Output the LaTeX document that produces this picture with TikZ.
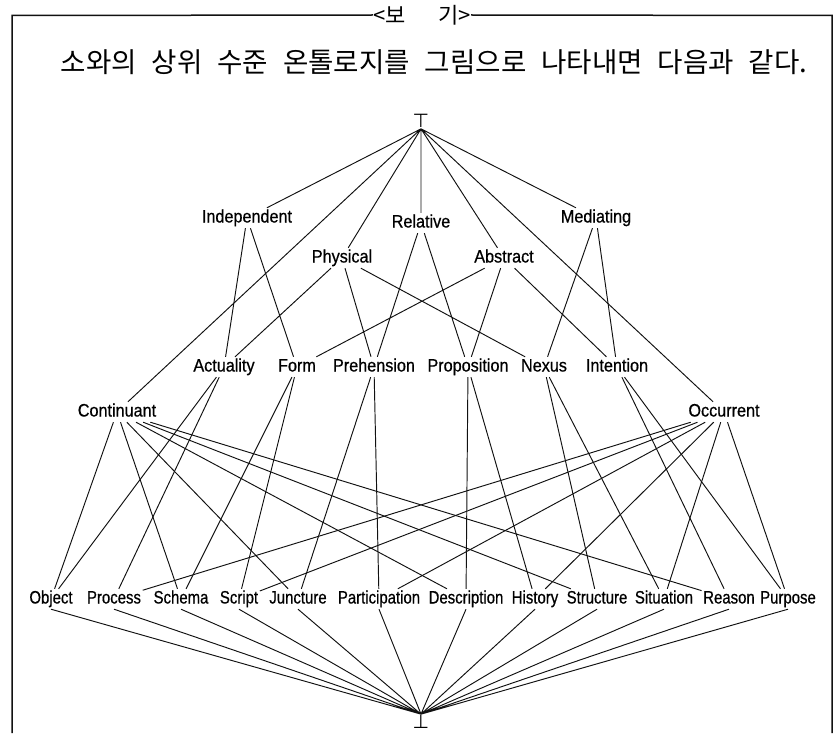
\documentclass[tikz,border=0pt]{standalone}
\usepackage{fontspec}
\setmainfont{Liberation Sans}[FakeStretch=0.9, FakeBold=0.6]
\newfontfamily\korfont{Noto Sans CJK KR}[WordSpace=2.4]
\newfontfamily\lowfont{Liberation Sans}[FakeStretch=0.83, FakeBold=0.6]
\newfontfamily\symfont{DejaVu Sans}
\definecolor{mInk}{HTML}{111111}
\usepackage{tikz}

\begin{document}
\begin{tikzpicture}[x=1pt, y=-1pt, font=\fontsize{18}{20}\selectfont,
  concept/.style={inner sep=1.5pt, text height=13pt, text depth=4pt},
  leaf/.style={concept, font=\lowfont\fontsize{18}{20}\selectfont},
  link/.style={mInk, line width=0.95pt},
  frame/.style={mInk, line width=1.5pt}]
\useasboundingbox (0,0) rectangle (837,733);
% box with its heading
\node[font=\korfont\fontsize{22}{24}\selectfont, inner sep=0pt] (title) at (422,15) {<보\hspace{1.5em}기>};
\coordinate (tl) at (12,15.5);
\coordinate (tr) at (832,15.5);
\coordinate (bl) at (12,733);
\coordinate (br) at (832,733);
\draw[frame] (title.west) -- (tl) -- (bl) (title.east) -- (tr) -- (br);
\node[font=\korfont\fontsize{27.6}{30}\selectfont] (intro) at (434,62) {소와의 상위 수준 온톨로지를 그림으로 나타내면 다음과 같다.};
% top and bottom of the lattice
\node[font=\symfont\fontsize{19}{19}\selectfont, inner sep=1pt] (top) at (421,121) {⊤};
\node[font=\symfont\fontsize{19}{19}\selectfont, inner sep=1pt] (bot) at (421,722) {⊥};
% first layer
\node[concept] (indep) at (247,218) {Independent};
\node[concept] (rel) at (421,223) {Relative};
\node[concept] (med) at (596,218) {Mediating};
\node[concept] (phys) at (342,258) {Physical};
\node[concept] (abst) at (504,258) {Abstract};
% second layer
\node[concept] (actu) at (224,367) {Actuality};
\node[concept] (form) at (297,367) {Form};
\node[concept] (preh) at (374,367) {Prehension};
\node[concept] (prop) at (468,367) {Proposition};
\node[concept] (nexus) at (544,367) {Nexus};
\node[concept] (inten) at (617,367) {Intention};
\node[concept] (cont) at (117,412) {Continuant};
\node[concept] (occ) at (724,412) {Occurrent};
% twelve leaf categories
\node[leaf] (obj) at (51,599) {Object};
\node[leaf] (proc) at (114,599) {Process};
\node[leaf] (schema) at (181,599) {Schema};
\node[leaf] (script) at (239,599) {Script};
\node[leaf] (junct) at (298,599) {Juncture};
\node[leaf] (partic) at (379,599) {Participation};
\node[leaf] (descr) at (466,599) {Description};
\node[leaf] (hist) at (535,599) {History};
\node[leaf] (struct) at (597,599) {Structure};
\node[leaf] (situ) at (664,599) {Situation};
\node[leaf] (reason) at (729,599) {Reason};
\node[leaf] (purp) at (788,599) {Purpose};
% links from the top
\draw[link] (top.south) -- (indep) (top.south) -- (rel) (top.south) -- (med)
  (top.south) -- (phys) (top.south) -- (abst) (top.south) -- (cont) (top.south) -- (occ);
% first layer to second layer
\draw[link] (indep) -- (actu) (indep) -- (form) (rel) -- (preh) (rel) -- (prop)
  (med) -- (nexus) (med) -- (inten) (phys) -- (actu) (phys) -- (preh) (phys) -- (nexus)
  (abst) -- (form) (abst) -- (prop) (abst) -- (inten);
% second layer to leaves
\draw[link] (actu) -- (obj) (actu) -- (proc) (form) -- (schema) (form) -- (script)
  (preh) -- (junct) (preh) -- (partic) (prop) -- (descr) (prop) -- (hist)
  (nexus) -- (struct) (nexus) -- (situ) (inten) -- (reason) (inten) -- (purp);
% continuant and occurrent to leaves
\draw[link] (cont) -- (obj) (cont) -- (schema) (cont) -- (junct)
  (cont) -- (descr) (cont) -- (struct) (cont) -- (reason);
\draw[link] (occ) -- (proc) (occ) -- (script) (occ) -- (partic)
  (occ) -- (hist) (occ) -- (situ) (occ) -- (purp);
% leaves to the bottom
\draw[link] (obj.south) -- (bot.north) (proc.south) -- (bot.north) (schema.south) -- (bot.north)
  (script.south) -- (bot.north) (junct.south) -- (bot.north) (partic.south) -- (bot.north)
  (descr.south) -- (bot.north) (hist.south) -- (bot.north) (struct.south) -- (bot.north)
  (situ.south) -- (bot.north) (reason.south) -- (bot.north) (purp.south) -- (bot.north);
\end{tikzpicture}
\end{document}
